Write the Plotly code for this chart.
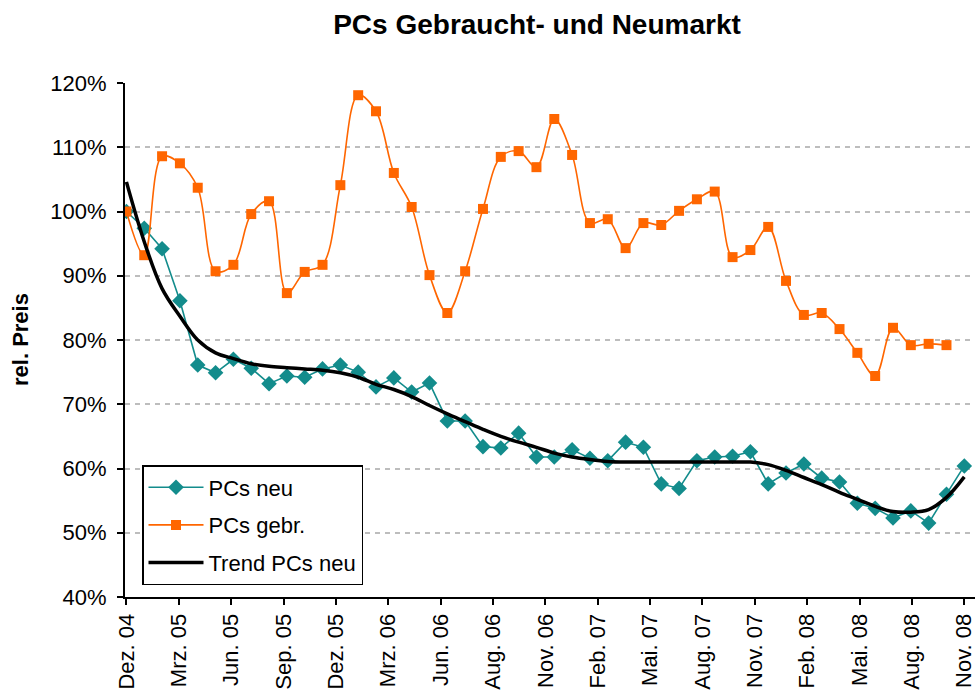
import plotly.graph_objects as go

# ---- data ----
tick_labels = ["Dez. 04", "Mrz. 05", "Jun. 05", "Sep. 05", "Dez. 05", "Mrz. 06", "Jun. 06",
               "Aug. 06", "Nov. 06", "Feb. 07", "Mai. 07", "Aug. 07", "Nov. 07", "Feb. 08",
               "Mai. 08", "Aug. 08", "Nov. 08"]

pcs_neu = [100.0, 97.4, 94.2, 86.1, 76.1, 74.9, 77.0, 75.6, 73.2, 74.4,
           74.2, 75.5, 76.1, 75.0, 72.7, 74.1, 71.9, 73.3, 67.4, 67.4,
           63.4, 63.2, 65.5, 61.8, 61.8, 62.9, 61.6, 61.2, 64.1, 63.3,
           57.6, 56.9, 61.2, 61.8, 61.9, 62.6, 57.6, 59.3, 60.7, 58.5,
           57.9, 54.6, 53.8, 52.3, 53.4, 51.5, 56.0, 60.4]

pcs_gebr = [100.0, 93.2, 108.6, 107.5, 103.7, 90.7, 91.7, 99.6, 101.6, 87.3,
            90.6, 91.7, 104.1, 118.1, 115.6, 106.0, 100.7, 90.1, 84.2, 90.7,
            100.4, 108.5, 109.4, 106.9, 114.4, 108.8, 98.2, 98.8, 94.3, 98.2,
            97.9, 100.1, 101.9, 103.1, 92.9, 94.0, 97.6, 89.2, 83.9, 84.2,
            81.7, 78.0, 74.4, 81.9, 79.2, 79.4, 79.2]

trend_neu = [104.6, 95.3, 88.0, 83.7, 80.0, 78.0, 77.1, 76.3, 75.9, 75.7,
             75.5, 75.3, 74.9, 74.2, 73.1, 72.3, 71.2, 69.8, 68.5, 67.3,
             66.1, 65.0, 64.1, 63.3, 62.4, 61.8, 61.4, 61.1, 61.0, 61.0,
             61.0, 61.0, 61.0, 61.0, 61.0, 61.0, 60.6, 59.7, 58.6, 57.5,
             56.3, 55.2, 54.1, 53.3, 53.2, 53.6, 55.5, 58.7]

x_neu = list(range(len(pcs_neu)))
x_gebr = list(range(len(pcs_gebr)))
x_trend = list(range(len(trend_neu)))
n_months = len(pcs_neu) - 1
tick_pos = [i * n_months / (len(tick_labels) - 1) for i in range(len(tick_labels))]

FONT = "Arial, Liberation Sans, sans-serif"

fig = go.Figure()
fig.add_trace(go.Scatter(
    x=x_neu, y=pcs_neu, name="PCs neu", mode="lines+markers", legendgroup="a",
    line=dict(color="#138C8C", width=1.6),
    marker=dict(symbol="diamond", size=12, color="#138C8C"),
))
fig.add_trace(go.Scatter(
    x=x_gebr, y=pcs_gebr, name="PCs gebr.", mode="lines+markers", legendgroup="b",
    line=dict(color="#FF6600", width=1.6, shape="spline", smoothing=1.0),
    marker=dict(symbol="square", size=10, color="#FF6600"),
))
fig.add_trace(go.Scatter(
    x=x_trend, y=trend_neu, name="Trend PCs neu", mode="lines", legendgroup="c",
    line=dict(color="black", width=3.5, shape="spline", smoothing=1.0),
))

fig.update_layout(
    width=977, height=700,
    margin=dict(l=125, r=2, t=83, b=103, autoexpand=False),
    paper_bgcolor="white", plot_bgcolor="white",
    font=dict(family=FONT, size=20, color="black"),
    title=dict(text="<b>PCs Gebraucht- und Neumarkt</b>", x=537 / 977, xanchor="center",
               y=1 - 24 / 700, yanchor="middle", font=dict(family=FONT, size=28, color="black")),
    showlegend=True,
    legend=dict(x=(142 - 125) / 850, y=(597 - 585) / 514, xanchor="left", yanchor="bottom",
                bgcolor="white", bordercolor="black", borderwidth=1.5,
                font=dict(family=FONT, size=22, color="black"),
                tracegroupgap=6, traceorder="grouped", itemwidth=55),
)

fig.update_xaxes(
    range=[-0.08, 47.6], tickmode="array", tickvals=tick_pos, ticktext=tick_labels,
    tickangle=-90, showgrid=False, zeroline=False, automargin=False,
    showline=True, linecolor="black", linewidth=2,
    ticks="outside", ticklen=6, tickwidth=1.5, tickcolor="black",
    tickfont=dict(family=FONT, size=22, color="black"),
)
fig.update_yaxes(
    range=[40, 120], dtick=10, ticksuffix="%", automargin=False,
    showgrid=True, gridcolor="#BDBDBD", griddash="5px,5px", gridwidth=1.5,
    zeroline=False, showline=True, linecolor="black", linewidth=2,
    ticks="outside", ticklen=6, tickwidth=1.5, tickcolor="black",
    tickfont=dict(family=FONT, size=22, color="black"),
    ticklabelstandoff=6,
)

fig.add_annotation(
    text="<b>rel. Preis</b>", textangle=-90, xref="paper", yref="paper",
    x=(20 - 125) / 850, y=(597 - 340) / 514, xanchor="center", yanchor="middle",
    showarrow=False, font=dict(family=FONT, size=22, color="black"),
)

fig.write_html("out.html", config={"displayModeBar": False},
               post_script="document.body.style.margin='0px';")
